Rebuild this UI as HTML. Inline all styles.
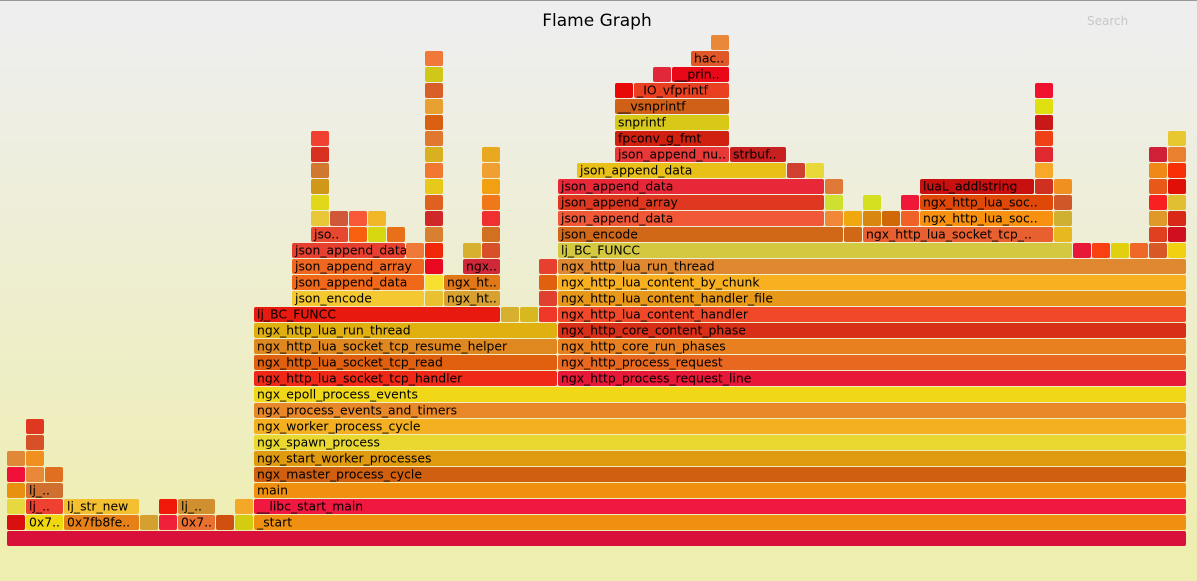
<!DOCTYPE html>
<html><head><meta charset="utf-8"><style>
html,body{margin:0;padding:0;width:1197px;height:581px;overflow:hidden}
svg text{font-family:"DejaVu Sans",Verdana,sans-serif}
</style></head><body>
<svg id="s" width="1197" height="581" xmlns="http://www.w3.org/2000/svg">
<defs><linearGradient id="bg" x1="0" y1="0" x2="0" y2="1"><stop offset="5%" stop-color="#eeeeee"/><stop offset="95%" stop-color="#eeeeb0"/></linearGradient></defs>
<rect x="0" y="0" width="1197" height="581" fill="url(#bg)"/>
<rect x="0" y="0" width="1197" height="1" fill="#999"/>
<text x="597" y="26" text-anchor="middle" font-size="17" fill="#000">Flame Graph</text>
<text x="1087" y="25" font-size="12" fill="#c8c8c8">Search</text>
</svg>
<script>
var D=[
[0,[[7,1187,"#d8103a",""]]],
[1,[[7,26,"#d81010",""],[26,64,"#f0d810","0x7.."],[64,140,"#e88018","0x7fb8fe.."],[140,159,"#d4a030",""],[159,178,"#f0203a",""],[178,216,"#e87030","0x7.."],[216,235,"#d05010",""],[235,254,"#d4cc10",""],[254,1187,"#f09010","_start"]]],
[2,[[7,26,"#e8d840",""],[26,64,"#f04030","lj_.."],[64,140,"#f4c030","lj_str_new"],[159,178,"#f01808",""],[178,216,"#d09030","lj_.."],[235,254,"#f4a828",""],[254,1187,"#f01840","__libc_start_main"]]],
[3,[[7,26,"#e89010",""],[26,64,"#d07030","lj_.."],[254,1187,"#f09010","main"]]],
[4,[[7,26,"#f0103a",""],[26,45,"#e88838",""],[45,64,"#e07020",""],[254,1187,"#d06010","ngx_master_process_cycle"]]],
[5,[[7,26,"#e08838",""],[26,45,"#f09020",""],[254,1187,"#e09a10","ngx_start_worker_processes"]]],
[6,[[26,45,"#d85028",""],[254,1187,"#e8d830","ngx_spawn_process"]]],
[7,[[26,45,"#e03820",""],[254,1187,"#f4b020","ngx_worker_process_cycle"]]],
[8,[[254,1187,"#e88828","ngx_process_events_and_timers"]]],
[9,[[254,1187,"#f0d818","ngx_epoll_process_events"]]],
[10,[[254,558,"#f02818","ngx_http_lua_socket_tcp_handler"],[558,1187,"#e81838","ngx_http_process_request_line"]]],
[11,[[254,558,"#e06010","ngx_http_lua_socket_tcp_read"],[558,1187,"#e86820","ngx_http_process_request"]]],
[12,[[254,558,"#e08820","ngx_http_lua_socket_tcp_resume_helper"],[558,1187,"#e88020","ngx_http_core_run_phases"]]],
[13,[[254,558,"#e0b010","ngx_http_lua_run_thread"],[558,1187,"#d83018","ngx_http_core_content_phase"]]],
[14,[[254,501,"#e81a10","lj_BC_FUNCC"],[501,520,"#d8b030",""],[520,539,"#d8b820",""],[539,558,"#f03828",""],[558,1187,"#f04828","ngx_http_lua_content_handler"]]],
[15,[[292,425,"#f4c830","json_encode"],[425,444,"#e8c030",""],[444,501,"#d8a030","ngx_ht.."],[539,558,"#e04030",""],[558,1187,"#e89818","ngx_http_lua_content_handler_file"]]],
[16,[[292,425,"#f06818","json_append_data"],[425,444,"#f8e030",""],[444,501,"#e07818","ngx_ht.."],[539,558,"#e06010",""],[558,1187,"#f8b020","ngx_http_lua_content_by_chunk"]]],
[17,[[292,425,"#f06820","json_append_array"],[425,444,"#e80820",""],[463,501,"#d02838","ngx.."],[539,558,"#e84030",""],[558,1187,"#e08830","ngx_http_lua_run_thread"]]],
[18,[[292,406,"#e84030","json_append_data"],[406,425,"#f07838",""],[425,444,"#f02808",""],[463,482,"#d8b030",""],[482,501,"#d85028",""],[558,1073,"#d4c840","lj_BC_FUNCC"],[1073,1092,"#e81838",""],[1092,1111,"#f84010",""],[1111,1130,"#e0d010",""],[1130,1149,"#f06828",""],[1149,1168,"#d85828",""],[1168,1187,"#f0d010",""]]],
[19,[[311,349,"#e84830","jso.."],[349,368,"#f86010",""],[368,387,"#d8d810",""],[387,406,"#e87018",""],[425,444,"#d88030",""],[482,501,"#d07020",""],[558,844,"#d06818","json_encode"],[844,863,"#d06818",""],[863,1054,"#e86030","ngx_http_lua_socket_tcp_.."],[1054,1073,"#e8b820",""],[1149,1168,"#e04020",""],[1168,1187,"#d01020",""]]],
[20,[[311,330,"#e8c838",""],[330,349,"#d05838",""],[349,368,"#f85838",""],[368,387,"#f0b828",""],[425,444,"#d02828",""],[482,501,"#f03030",""],[558,825,"#f05838","json_append_data"],[825,844,"#f08838",""],[844,863,"#f0a810",""],[863,882,"#d88810",""],[882,901,"#d06808",""],[901,920,"#f06028",""],[920,1054,"#f89010","ngx_http_lua_soc.."],[1054,1073,"#d0b030",""],[1149,1168,"#e09828",""],[1168,1187,"#d82818",""]]],
[21,[[311,330,"#e0d818",""],[425,444,"#e06020",""],[482,501,"#f07818",""],[558,825,"#e03820","json_append_array"],[825,844,"#d0e030",""],[863,882,"#d4e020",""],[901,920,"#f01838",""],[920,1054,"#e04808","ngx_http_lua_soc.."],[1054,1073,"#d05828",""],[1149,1168,"#f82020",""],[1168,1187,"#e0c030",""]]],
[22,[[311,330,"#d09818",""],[425,444,"#e8c818",""],[482,501,"#f0a010",""],[558,825,"#e82838","json_append_data"],[825,844,"#e07838",""],[920,1035,"#c81010","luaL_addlstring"],[1035,1054,"#d03020",""],[1054,1073,"#f09020",""],[1149,1168,"#e85818",""],[1168,1187,"#e01008",""]]],
[23,[[311,330,"#d07830",""],[425,444,"#f07830",""],[482,501,"#f0a030",""],[577,787,"#e8c018","json_append_data"],[787,806,"#d04030",""],[806,825,"#e8d838",""],[1035,1054,"#f8a828",""],[1149,1168,"#f08818",""],[1168,1187,"#f83008",""]]],
[24,[[311,330,"#d83020",""],[425,444,"#d8b020",""],[482,501,"#e8a820",""],[615,730,"#e83838","json_append_nu.."],[730,787,"#c82020","strbuf.."],[1035,1054,"#e02830",""],[1149,1168,"#d02038",""],[1168,1187,"#e88030",""]]],
[25,[[311,330,"#f04030",""],[425,444,"#e07830",""],[615,730,"#d02010","fpconv_g_fmt"],[1035,1054,"#f04018",""],[1168,1187,"#e8c830",""]]],
[26,[[425,444,"#d86010",""],[615,730,"#d8c818","snprintf"],[1035,1054,"#c81818",""]]],
[27,[[425,444,"#e8a030",""],[615,730,"#d06018","__vsnprintf"],[1035,1054,"#e0e010",""]]],
[28,[[425,444,"#d86028",""],[615,634,"#e80808",""],[634,730,"#e84020","_IO_vfprintf"],[1035,1054,"#f01030",""]]],
[29,[[425,444,"#d0c818",""],[653,672,"#e02838",""],[672,730,"#e80818","__prin.."]]],
[30,[[425,444,"#f07838",""],[691,730,"#e05828","hac.."]]],
[31,[[711,730,"#e88838",""]]]
];
var s=document.getElementById('s'),h='';
D.forEach(function(r){var y=531-16*r[0];r[1].forEach(function(f){
h+='<rect x="'+f[0]+'" y="'+y+'" width="'+(f[1]-f[0]-1)+'" height="15" rx="2" ry="2" fill="'+f[2]+'"/>';
if(f[3])h+='<text x="'+(f[0]+3)+'" y="'+(y+11.5)+'" font-size="12.4" fill="#000">'+f[3]+'</text>';});});
s.insertAdjacentHTML('beforeend',h);
</script>
</body></html>
